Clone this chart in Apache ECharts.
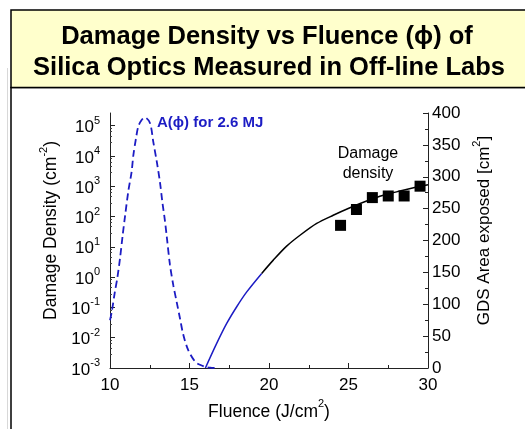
<!DOCTYPE html>
<html><head><meta charset="utf-8">
<script src="https://cdn.jsdelivr.net/npm/echarts@6/dist/echarts.min.js"></script>
<style>html,body{margin:0;padding:0;background:#fff}#c{width:525px;height:429px}</style>
</head><body><div id="c"></div>
<script>
// A(phi) for 2.6 MJ : area exposed (cm^2) vs fluence (J/cm^2), right axis
const areaFluence = [10.00, 10.11, 10.31, 10.46, 10.63, 10.80, 10.94, 11.15, 11.36, 11.47, 11.64, 11.78, 11.99, 12.20, 12.52, 12.72, 12.94, 13.14, 13.29, 13.46, 13.57, 13.77, 13.98, 14.19, 14.40, 14.61, 14.92, 15.35, 15.66, 15.97, 16.30, 16.70];
const areaValues  = [75, 88, 120, 141, 172, 209, 237, 277, 308, 334, 361, 379, 389, 393, 384, 355, 324, 292, 261, 230, 206, 162, 130, 104, 78, 52, 28, 10, 5, 2, 0.5, 0];
// Damage density fit (cm^-2), left log axis: blue part and black part
const fitLowFluence  = [16.00, 16.71, 17.34, 17.97, 18.60, 19.54];
const fitLowDensity  = [0.001, 0.00646, 0.0295, 0.105, 0.324, 1.32];
const fitHighFluence = [19.54, 20.27, 21.11, 21.95, 23.00, 24.04, 25.09, 26.14, 27.19, 28.24, 29.29, 30.00];
const fitHighDensity = [1.32, 3.63, 10.5, 24, 59, 110, 195, 324, 501, 692, 933, 1122];
// Measured damage density
const measFluence = [24.5, 25.5, 26.5, 27.5, 28.5, 29.5];
const measDensity = [51, 170, 420, 475, 475, 1000];
// Tick values
const densityTicks = [1e-3, 1e-2, 1e-1, 1e0, 1e1, 1e2, 1e3, 1e4, 1e5];
const titleLines = ['Damage Density vs Fluence (\u03d5) of', 'Silica Optics Measured in Off-line Labs'];

const FONT = 'Arial, "Liberation Sans", sans-serif';
const BLUE = '#1c1cc4';
const zip = (a, b) => a.map((v, i) => [v, b[i]]);
const supRich = (base, sup, lh) => ({
  n: {fontSize: base, lineHeight: lh, verticalAlign: 'bottom', color: '#000', fontFamily: FONT},
  s: {fontSize: sup, lineHeight: sup, verticalAlign: 'top', color: '#000', fontFamily: FONT}
});

const chart = echarts.init(document.getElementById('c'), null, {renderer: 'canvas'});
chart.setOption({
  animation: false,
  backgroundColor: '#fff',
  textStyle: {fontFamily: FONT},
  graphic: [
    {type: 'rect', z: -10, shape: {x: 7, y: 68, width: 1, height: 361}, style: {fill: '#d8d8d8'}},
    {type: 'rect', z: -9, shape: {x: 11, y: 87.5, width: 530, height: 360}, style: {fill: '#fff', stroke: '#000', lineWidth: 1.5}},
    {type: 'rect', z: -8, shape: {x: 11, y: 10, width: 530, height: 77.5}, style: {fill: '#ffffcc', stroke: '#000', lineWidth: 1.5}},
    {type: 'text', z: 10, x: 267, y: 37, style: {text: titleLines[0], font: 'bold 25.5px ' + FONT, fill: '#000', align: 'center', verticalAlign: 'middle'}},
    {type: 'text', z: 10, x: 269, y: 68, style: {text: titleLines[1], font: 'bold 25.5px ' + FONT, fill: '#000', align: 'center', verticalAlign: 'middle'}},
    {type: 'text', z: 10, x: 157, y: 123, style: {text: 'A(\u03d5) for 2.6 MJ', font: 'bold 15px ' + FONT, fill: BLUE, align: 'left', verticalAlign: 'middle'}},
    {type: 'text', z: 10, x: 368, y: 164, style: {text: 'Damage\ndensity', font: '16px ' + FONT, fill: '#000', align: 'center', verticalAlign: 'middle', lineHeight: 20}}
  ],
  grid: {left: 110, right: 97, top: 113, bottom: 61, containLabel: false},
  xAxis: {
    type: 'value', min: 10, max: 30, interval: 5,
    axisLine: {lineStyle: {color: '#222', width: 1}},
    axisTick: {inside: true, length: 5, lineStyle: {color: '#222'}},
    minorTick: {show: true, splitNumber: 2, length: 3, lineStyle: {color: '#222'}},
    splitLine: {show: false},
    axisLabel: {fontSize: 17, color: '#000', margin: 9, fontFamily: FONT},
    name: '{n|Fluence (J/cm}{s|2}{n|)}', nameLocation: 'middle', nameGap: 25,
    nameTextStyle: {rich: supRich(17.5, 11, 22)}
  },
  yAxis: [
    {
      type: 'log', logBase: 10, min: 1e-3, max: 2.6e5, position: 'left',
      axisLine: {show: true, lineStyle: {color: '#222', width: 1}},
      axisTick: {inside: true, length: 5, customValues: densityTicks, lineStyle: {color: '#222'}},
      minorTick: {show: true, splitNumber: 5, length: 2, lineStyle: {color: '#444'}},
      splitLine: {show: false},
      axisLabel: {
        customValues: densityTicks, margin: 10,
        formatter: v => '{n|10}{s|' + Math.round(Math.log10(v)) + '}',
        rich: supRich(17, 11, 21)
      },
      name: '{n|Damage Density (cm}{s|-2}{n|)}', nameLocation: 'middle', nameGap: 50, nameRotate: 90,
      nameTextStyle: {rich: supRich(17.5, 11, 22), padding: [0, 0, 0, 20]}
    },
    {
      type: 'value', min: 0, max: 400, interval: 50, position: 'right',
      axisLine: {show: true, lineStyle: {color: '#222', width: 1}},
      axisTick: {inside: true, length: 5, lineStyle: {color: '#222'}},
      minorTick: {show: true, splitNumber: 2, length: 3, lineStyle: {color: '#222'}},
      splitLine: {show: false},
      axisLabel: {fontSize: 17, color: '#000', margin: 4, fontFamily: FONT},
      name: '{n|GDS Area exposed [cm}{s|2}{n|]}', nameLocation: 'middle', nameGap: 33, nameRotate: 90,
      nameTextStyle: {rich: supRich(17, 11, 22), padding: [0, 0, 0, 20]}
    }
  ],
  series: [
    {name: 'A', type: 'line', yAxisIndex: 1, data: zip(areaFluence, areaValues), smooth: 0.3, showSymbol: false,
     lineStyle: {color: BLUE, width: 1.8, type: [7, 4]}},
    {name: 'fitLow', type: 'line', yAxisIndex: 0, data: zip(fitLowFluence, fitLowDensity), smooth: 0.3, showSymbol: false,
     lineStyle: {color: BLUE, width: 1.5}},
    {name: 'fitHigh', type: 'line', yAxisIndex: 0, data: zip(fitHighFluence, fitHighDensity), smooth: 0.3, showSymbol: false,
     lineStyle: {color: '#000', width: 1.5}},
    {name: 'meas', type: 'scatter', yAxisIndex: 0, data: zip(measFluence, measDensity), symbol: 'rect', symbolSize: 11,
     itemStyle: {color: '#000', opacity: 1}}
  ]
});
</script></body></html>
